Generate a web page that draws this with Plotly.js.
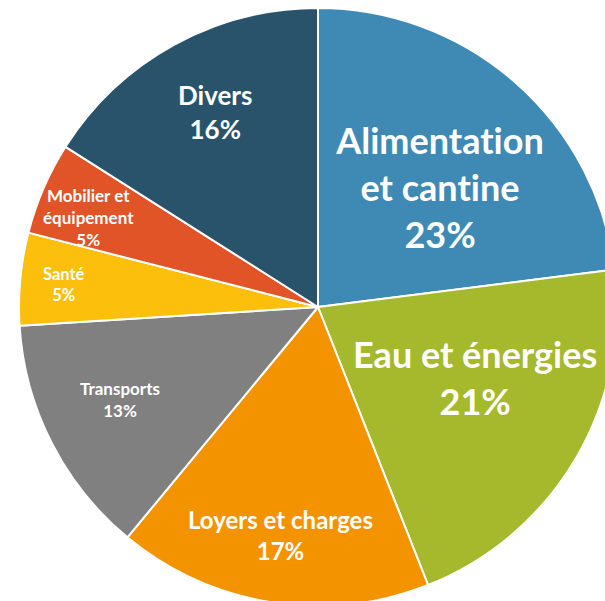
<!DOCTYPE html>
<html>
<head>
<meta charset="utf-8">
<script src="https://cdn.plot.ly/plotly-3.0.1.min.js"></script>
<style>
html,body{margin:0;padding:0;width:605px;height:601px;overflow:hidden;background:#fff;}
#chart{position:absolute;left:19px;top:8px;width:598px;height:598px;}
#chart text{font-variant-ligatures:none;font-feature-settings:"liga" 0, "clig" 0;}
</style>
</head>
<body>
<div id="chart"></div>
<script>
// Data
var categories = ["Alimentation<br>et cantine", "Eau et énergies", "Loyers et charges", "Transports", "Santé", "Mobilier et<br>équipement", "Divers"];
var values = [23, 21, 17, 13, 5, 5, 16];

// Styles
var colors = ["#3f8ab4", "#a6b82c", "#f49300", "#808080", "#fcbf0c", "#e05428", "#28536b"];
var fontSizes = [36, 36, 24, 17, 16.5, 17, 26];
// label anchor offsets from the pie centre, in units of the radius (x right, y up)
var labelOffsets = [[0.408, 0.401], [0.525, -0.237], [-0.124, -0.763], [-0.662, -0.311], [-0.849, 0.074], [-0.766, 0.301], [-0.344, 0.652]];

var total = values.reduce(function(a, b){ return a + b; }, 0);

var trace = {
  type: "pie",
  labels: categories,
  values: values,
  sort: false,
  direction: "clockwise",
  rotation: 0,
  marker: {colors: colors, line: {color: "#ffffff", width: 2}},
  textinfo: "none",
  hoverinfo: "none",
  showlegend: false
};

var annotations = categories.map(function(c, i){
  return {
    xref: "paper", yref: "paper",
    x: 0.5 + 0.5 * labelOffsets[i][0],
    y: 0.5 + 0.5 * labelOffsets[i][1],
    xanchor: "center", yanchor: "middle",
    showarrow: false,
    align: "center",
    text: c + "<br>" + Math.round(values[i] / total * 100) + "%",
    font: {family: "Lato", size: fontSizes[i], color: "#ffffff", weight: "bold"}
  };
});

var layout = {
  width: 598, height: 598,
  margin: {l: 0, r: 0, t: 0, b: 0},
  paper_bgcolor: "rgba(0,0,0,0)",
  plot_bgcolor: "rgba(0,0,0,0)",
  showlegend: false,
  annotations: annotations
};

Plotly.newPlot("chart", [trace], layout, {displayModeBar: false, staticPlot: true});
</script>
</body>
</html>
